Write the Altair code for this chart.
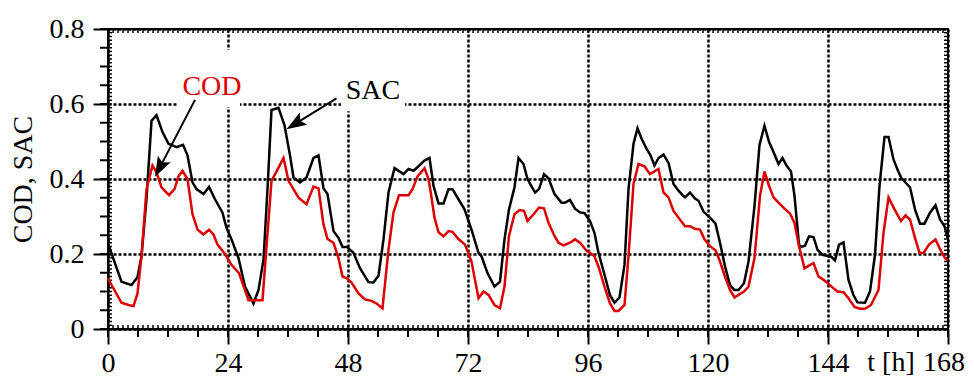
import math
import altair as alt
import pandas as pd

# ---------------- data ----------------
sac_points = [
    (0, 0.228), (2.7, 0.126), (4.7, 0.117), (5.9, 0.138), (6.7, 0.194), (7.7, 0.346),
    (8.7, 0.555), (9.7, 0.57), (10.9, 0.525), (12.1, 0.494), (13.7, 0.485), (15.0, 0.491),
    (15.9, 0.463), (16.9, 0.391), (17.7, 0.373), (19.1, 0.36), (20.2, 0.379), (21.4, 0.346),
    (22.9, 0.31), (23.7, 0.27), (24.7, 0.239), (26.1, 0.189), (27.4, 0.113), (29.1, 0.068),
    (30.1, 0.104), (31.1, 0.185), (31.9, 0.373), (32.7, 0.584), (34.1, 0.59), (35.3, 0.543),
    (36.4, 0.463), (37.1, 0.404), (38.4, 0.391), (39.7, 0.404), (41.1, 0.456), (42.1, 0.463),
    (43.1, 0.375), (43.9, 0.36), (45.1, 0.261), (46.1, 0.243), (46.9, 0.219), (47.8, 0.219),
    (49.1, 0.203), (50.4, 0.162), (52.1, 0.125), (53.1, 0.124), (54.1, 0.142), (55.1, 0.239),
    (56.1, 0.364), (57.3, 0.429), (59.1, 0.413), (60.1, 0.427), (61.1, 0.422), (62.1, 0.434),
    (63.3, 0.449), (64.3, 0.456), (65.1, 0.382), (66.1, 0.335), (67.1, 0.335), (68.1, 0.373),
    (68.9, 0.373), (70.1, 0.346), (71.3, 0.319), (72.7, 0.265), (74.1, 0.203), (74.7, 0.194),
    (75.9, 0.149), (77.3, 0.113), (78.4, 0.126), (79.3, 0.239), (80.2, 0.319), (81.3, 0.378),
    (82.1, 0.456), (83.1, 0.44), (83.9, 0.4), (85.4, 0.364), (86.2, 0.373), (87.2, 0.413),
    (88.1, 0.402), (89.3, 0.36), (90.7, 0.337), (91.4, 0.337), (92.4, 0.344), (93.4, 0.321),
    (94.4, 0.311), (95.3, 0.309), (96.4, 0.288), (97.3, 0.256), (98.1, 0.203), (99.4, 0.14),
    (100.4, 0.09), (101.3, 0.07), (102.3, 0.084), (103.3, 0.171), (104.1, 0.373), (105.1, 0.494),
    (105.9, 0.535), (106.7, 0.508), (107.7, 0.481), (108.5, 0.463), (109.3, 0.436), (110.1, 0.456),
    (111.1, 0.465), (112.1, 0.443), (113.1, 0.387), (114.1, 0.369), (114.9, 0.357), (115.4, 0.351),
    (116.4, 0.364), (117.4, 0.348), (118.1, 0.342), (119.1, 0.313), (120.4, 0.297), (121.5, 0.281),
    (122.4, 0.23), (123.4, 0.167), (124.4, 0.117), (125.3, 0.104), (126.1, 0.104), (127.2, 0.122),
    (128.1, 0.18), (129.3, 0.328), (130.3, 0.491), (131.3, 0.542), (132.2, 0.499), (133.1, 0.472),
    (134.1, 0.44), (134.9, 0.456), (135.7, 0.436), (136.6, 0.42), (137.3, 0.355), (138.2, 0.225),
    (138.7, 0.219), (139.4, 0.222), (140.2, 0.247), (141.1, 0.245), (141.9, 0.211), (142.9, 0.198),
    (143.8, 0.195), (144.7, 0.192), (145.4, 0.183), (146.2, 0.225), (147.1, 0.231), (148.1, 0.131),
    (149.1, 0.09), (149.9, 0.071), (151.4, 0.07), (152.4, 0.1), (153.4, 0.198), (154.3, 0.382),
    (155.3, 0.512), (156.1, 0.512), (157.1, 0.452), (158.0, 0.422), (158.7, 0.402), (160.4, 0.378),
    (161.4, 0.319), (162.4, 0.281), (163.3, 0.281), (164.4, 0.31), (165.5, 0.33), (166.4, 0.292),
    (167.3, 0.274), (168, 0.24),
]

cod_points = [
    (0, 0.135), (1.1, 0.108), (2.7, 0.07), (4.1, 0.064), (5.1, 0.061), (5.9, 0.095), (6.7, 0.194),
    (7.7, 0.373), (8.9, 0.436), (9.7, 0.418), (10.7, 0.378), (12.2, 0.357), (13.3, 0.373),
    (14.1, 0.407), (14.9, 0.422), (15.9, 0.4), (16.9, 0.306), (17.9, 0.265), (19.1, 0.252),
    (20.2, 0.265), (21.1, 0.252), (21.9, 0.225), (23.4, 0.2), (24.7, 0.171), (26.2, 0.149),
    (28.1, 0.077), (29.4, 0.077), (30.9, 0.077), (32.7, 0.395), (33.9, 0.425), (35.1, 0.456),
    (36.1, 0.395), (37.1, 0.373), (38.1, 0.35), (39.7, 0.333), (41.1, 0.38), (42.1, 0.375),
    (43.1, 0.279), (43.9, 0.24), (45.1, 0.23), (46.1, 0.189), (46.9, 0.14), (47.8, 0.135),
    (48.7, 0.124), (50.1, 0.095), (51.4, 0.079), (52.7, 0.075), (53.7, 0.068), (54.9, 0.055),
    (56.1, 0.212), (57.1, 0.311), (58.2, 0.357), (60.1, 0.357), (60.9, 0.373), (61.9, 0.407),
    (63.3, 0.429), (64.1, 0.4), (64.6, 0.36), (65.3, 0.297), (66.1, 0.258), (67.1, 0.247),
    (68.1, 0.261), (68.9, 0.259), (70.1, 0.24), (71.4, 0.225), (72.7, 0.18), (74.1, 0.082),
    (75.1, 0.1), (76.1, 0.091), (77.3, 0.064), (78.4, 0.055), (79.3, 0.113), (80.2, 0.248),
    (81.3, 0.306), (82.3, 0.317), (83.2, 0.315), (83.9, 0.288), (85.1, 0.306), (86.2, 0.324),
    (87.2, 0.322), (88.1, 0.283), (89.3, 0.248), (90.1, 0.23), (91.1, 0.223), (92.4, 0.23),
    (93.4, 0.239), (94.4, 0.23), (95.8, 0.207), (96.4, 0.203), (97.3, 0.194), (98.2, 0.162),
    (99.3, 0.113), (100.4, 0.068), (101.3, 0.048), (102.1, 0.048), (103.3, 0.064), (104.1, 0.194),
    (105.1, 0.387), (106.1, 0.44), (107.3, 0.434), (108.4, 0.413), (110.1, 0.427), (111.1, 0.364),
    (112.1, 0.351), (113.1, 0.315), (114.1, 0.297), (115.4, 0.274), (116.4, 0.274), (117.4, 0.267),
    (118.4, 0.265), (119.3, 0.239), (120.4, 0.221), (121.5, 0.21), (122.4, 0.18), (123.4, 0.14),
    (124.4, 0.104), (125.3, 0.084), (126.1, 0.091), (127.2, 0.1), (128.1, 0.113), (129.3, 0.189),
    (130.4, 0.355), (131.3, 0.42), (132.2, 0.382), (133.1, 0.351), (134.1, 0.337), (135.3, 0.321),
    (136.4, 0.308), (137.3, 0.283), (138.2, 0.221), (139.3, 0.162), (140.2, 0.169), (141.1, 0.176),
    (142.1, 0.14), (142.9, 0.133), (143.8, 0.124), (144.7, 0.113), (145.9, 0.1), (147.1, 0.098),
    (148.1, 0.082), (149.3, 0.059), (150.4, 0.054), (151.4, 0.054), (152.6, 0.064), (154.1, 0.104),
    (155.1, 0.256), (156.1, 0.351), (157.3, 0.319), (158.6, 0.288), (159.5, 0.303), (160.4, 0.292),
    (161.4, 0.243), (162.3, 0.203), (163.1, 0.203), (164.2, 0.225), (165.5, 0.239), (166.4, 0.213),
    (167.4, 0.189), (168, 0.183),
]

x_ticks = [0, 24, 48, 72, 96, 120, 144, 168]
y_ticks = [0, 0.2, 0.4, 0.6, 0.8]
x_minor = list(range(0, 169, 6))
y_minor = [round(0.05 * i, 2) for i in range(17)]
x_inner = list(range(0, 169))
y_inner = [round(0.01 * i, 2) for i in range(81)]

labels = ["COD", "SAC"]
label_colors = ["#dd0000", "black"]

# ---------------- layout ----------------
W, H = 840, 300
FONT = "Liberation Serif"
FS = 28
RED = "#dd0000"
PX_X = W / 168.0
PX_Y = H / 0.8
BASE = H + 42  # baseline of the x labels (pixels from plot top)

xs = alt.Scale(domain=[0, 168], nice=False, zero=False)
ys = alt.Scale(domain=[0, 0.8], nice=False, zero=False)

sac_df = pd.DataFrame(sac_points, columns=["t", "v"])
cod_df = pd.DataFrame(cod_points, columns=["t", "v"])

common_axis = dict(
    grid=True, gridDash=[3, 2], gridColor="black", gridWidth=2.5, gridOpacity=1,
    tickSize=15, tickWidth=2, tickColor="black",
    domainColor="black", domainWidth=2,
    labelFont=FONT, labelFontSize=FS, labelColor="black",
    labelFlush=False, labelOverlap=False, labelBound=False,
)

xaxis = alt.Axis(
    values=x_ticks, title=None, labelBaseline="alphabetic", labelPadding=BASE - H - 15,
    labelExpr="datum.value == 168 ? '' : format(datum.value, 'd')", **common_axis,
)
yaxis = alt.Axis(
    values=y_ticks,
    labelExpr="datum.value == 0 ? '0' : format(datum.value, '.1f')",
    title="COD, SAC", titleFont=FONT, titleFontSize=FS, titleFontWeight="normal",
    titleColor="black", titlePadding=12, labelPadding=9, **common_axis,
)

sac_line = alt.Chart(sac_df).mark_line(color="black", strokeWidth=2.5).encode(
    x=alt.X("t:Q", scale=xs, axis=xaxis),
    y=alt.Y("v:Q", scale=ys, axis=yaxis),
)
cod_line = alt.Chart(cod_df).mark_line(color=RED, strokeWidth=2.5).encode(
    x="t:Q", y="v:Q",
)

# white boxes behind the annotation labels (interrupt the grid)
box_df = pd.DataFrame({
    "x0": [14.0, 46.6], "x1": [26.4, 59.4],
    "y0": [0.592, 0.581], "y1": [0.744, 0.797],
})
boxes = alt.Chart(box_df).mark_rect(color="white").encode(
    x="x0:Q", x2="x1", y="y0:Q", y2="y1",
)

# tick decorations
xin = pd.DataFrame({"t": x_inner})
yin = pd.DataFrame({"v": y_inner})
xmn = pd.DataFrame({"t": x_minor})
ymn = pd.DataFrame({"v": y_minor})

bot_in = alt.Chart(xin).mark_rule(color="black", strokeWidth=1.5).encode(
    x="t:Q", y=alt.value(H), y2=alt.value(H - 4))
top_in = alt.Chart(xin).mark_rule(color="black", strokeWidth=1.5).encode(
    x="t:Q", y=alt.value(0), y2=alt.value(4))
left_in = alt.Chart(yin).mark_rule(color="black", strokeWidth=1.5).encode(
    y="v:Q", x=alt.value(0), x2=alt.value(4))
right_in = alt.Chart(yin).mark_rule(color="black", strokeWidth=1.5).encode(
    y="v:Q", x=alt.value(W), x2=alt.value(W - 4))
bot_minor = alt.Chart(xmn).mark_rule(color="black", strokeWidth=2).encode(
    x="t:Q", y=alt.value(H), y2=alt.value(H + 8))
left_minor = alt.Chart(ymn).mark_rule(color="black", strokeWidth=2).encode(
    y="v:Q", x=alt.value(0), x2=alt.value(-8))

# arrows: start (t, v) -> tip (t, v)
arrow_start = [(17.4, 0.611), (45.7, 0.615)]
arrow_tip = [(9.4, 0.406), (35.7, 0.533)]
rows = []
for (t0, v0), (t1, v1) in zip(arrow_start, arrow_tip):
    dx = (t1 - t0) * PX_X
    dy = -(v1 - v0) * PX_Y
    L = math.hypot(dx, dy)
    ang = math.degrees(math.atan2(dx, -dy)) % 360
    back = 12.0 / L
    rows.append({
        "t": t0, "v": v0,
        "t2": t1 - (t1 - t0) * back, "v2": v1 - (v1 - v0) * back,
        "tx": t1, "ty": v1, "ang": ang,
    })
arr_df = pd.DataFrame(rows)
arrow_lines = alt.Chart(arr_df).mark_rule(color="black", strokeWidth=2).encode(
    x="t:Q", y="v:Q", x2="t2", y2="v2")
arrow_heads = alt.Chart(arr_df).mark_point(
    shape="M0,0L-0.36,1L0,0.8L0.36,1Z", filled=True, opacity=1, color="black",
    size=1600, strokeWidth=0,
).encode(
    x=alt.X("tx:Q"), y=alt.Y("ty:Q"),
    angle=alt.Angle("ang:Q", scale=None),
)

# annotation labels
lab_df = pd.DataFrame({
    "t": [20.8, 53.0], "v": [0.624, 0.613], "txt": labels, "col": label_colors,
})
lab_text = alt.Chart(lab_df).mark_text(
    font=FONT, fontSize=FS, align="center", baseline="alphabetic",
).encode(
    x="t:Q", y="v:Q", text="txt:N",
    color=alt.Color("col:N", scale=None),
)

# "t [h]" and the last tick label (kept inside the page)
tl_df = pd.DataFrame({"s": ["t [h]", "168"], "t": [156.6, 168.0], "dx": [0, -4]})
t_label_main = alt.Chart(tl_df).transform_filter("datum.dx == 0").mark_text(
    font=FONT, fontSize=FS, align="center", baseline="alphabetic", color="black",
).encode(
    x="t:Q", y=alt.value(BASE), text="s:N",
)
last_label = alt.Chart(tl_df).transform_filter("datum.dx != 0").mark_text(
    font=FONT, fontSize=FS, align="center", baseline="alphabetic", color="black", dx=-4,
).encode(
    x="t:Q", y=alt.value(BASE), text="s:N",
)

chart = alt.layer(
    sac_line, boxes, bot_in, top_in, left_in, right_in, bot_minor, left_minor,
    cod_line, arrow_lines, arrow_heads, lab_text, t_label_main, last_label,
).properties(
    width=W, height=H,
    padding={"left": 100, "top": 21, "right": 18, "bottom": 47},
    autosize=alt.AutoSizeParams(type="none"),
).configure_view(
    stroke="black", strokeWidth=2,
)

chart.save("out.html", embed_options={"renderer": "svg", "actions": False})
